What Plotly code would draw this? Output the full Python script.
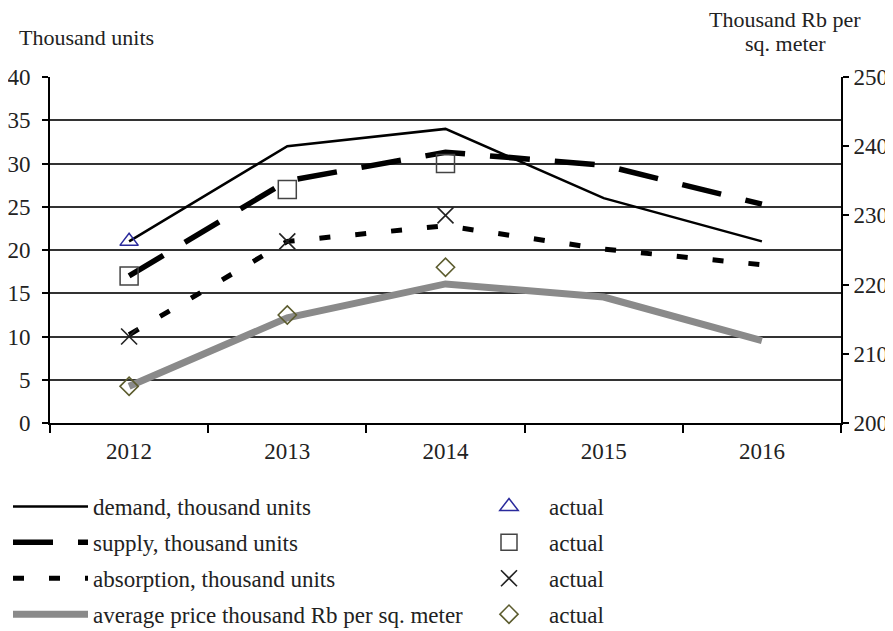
import plotly.graph_objects as go

years = ["2012", "2013", "2014", "2015", "2016"]
demand = [21, 32, 34, 26, 21]
supply = [17, 28, 31.3, 29.8, 25.3]
absorption = [10.2, 21, 22.8, 20.1, 18.3]
price = [205.3, 215.2, 220.1, 218.2, 211.9]

actual_years_demand = ["2012"]
demand_actual = [21]
actual_years = ["2012", "2013", "2014"]
supply_actual = [17, 27, 30]
absorption_actual = [10, 21, 24]
price_actual = [205.3, 215.6, 222.5]

FONT = "Liberation Serif, Times New Roman, serif"
fig = go.Figure()

fig.add_trace(go.Scatter(x=years, y=demand, mode="lines", name="demand, thousand units",
                         line=dict(color="black", width=2.5), legend="legend", legendgroup="a"))
fig.add_trace(go.Scatter(x=years, y=supply, mode="lines", name="supply, thousand units",
                         line=dict(color="black", width=5.5, dash="40px,25px"), legend="legend", legendgroup="b"))
fig.add_trace(go.Scatter(x=years, y=absorption, mode="lines", name="absorption, thousand units",
                         line=dict(color="black", width=5, dash="11px,25px"), legend="legend", legendgroup="c"))
fig.add_trace(go.Scatter(x=years, y=price, mode="lines", name="average price thousand Rb per sq. meter",
                         line=dict(color="#8a8a8a", width=7), yaxis="y2", legend="legend", legendgroup="d"))

fig.add_trace(go.Scatter(x=actual_years_demand, y=demand_actual, mode="markers", name="actual",
                         marker=dict(symbol="triangle-up-open", size=16, color="#2a2a9c", line=dict(width=1.5)),
                         legend="legend2", legendgroup="e"))
fig.add_trace(go.Scatter(x=actual_years, y=supply_actual, mode="markers", name="actual",
                         marker=dict(symbol="square-open", size=18, color="#444444", line=dict(width=1.5)),
                         legend="legend2", legendgroup="f"))
fig.add_trace(go.Scatter(x=actual_years, y=absorption_actual, mode="markers", name="actual",
                         marker=dict(symbol="x-thin-open", size=16, color="#222222", line=dict(width=1.6)),
                         legend="legend2", legendgroup="g"))
fig.add_trace(go.Scatter(x=actual_years, y=price_actual, mode="markers", name="actual",
                         marker=dict(symbol="diamond-open", size=14, color="#5c5c2e", line=dict(width=1.6)),
                         yaxis="y2", legend="legend2", legendgroup="h"))

# page body has an 8px margin, so the figure is laid out 8px up/left of page coordinates
L, R, T, B = 42, 60, 69, 216
W, H = 893, 631
pw = W - L - R
ph = H - T - B


def px_x(x):
    return (x - L) / pw


def px_y(y):
    return (H - B - y) / ph


fig.update_layout(
    width=W, height=H,
    margin=dict(l=L, r=R, t=T, b=B, autoexpand=False),
    paper_bgcolor="white", plot_bgcolor="white",
    font=dict(family=FONT, size=23, color="#222222"),
    showlegend=True,
    xaxis=dict(type="category", tickson="boundaries", ticks="outside", ticklen=8, tickcolor="black",
               tickwidth=1.5, showline=True, linecolor="black", linewidth=2, showgrid=False,
               range=[-0.5, 4.5], ticklabelstandoff=6, tickangle=0, automargin=False,
               tickfont=dict(family=FONT, size=23)),
    yaxis=dict(range=[0, 40], dtick=5, ticks="outside", ticklen=6, tickcolor="black", tickwidth=1.5,
               showline=True, linecolor="black", linewidth=2, showgrid=True, gridcolor="#333333",
               gridwidth=1.5, zeroline=False, ticklabelstandoff=7, automargin=False,
               tickfont=dict(family=FONT, size=23)),
    yaxis2=dict(range=[200, 250], dtick=10, overlaying="y", side="right", ticks="outside", ticklen=6,
                tickcolor="black", tickwidth=1.5, showline=True, linecolor="black", linewidth=2,
                showgrid=False, zeroline=False, ticklabelstandoff=0, automargin=False,
                tickfont=dict(family=FONT, size=23)),
    legend=dict(xref="container", yref="container", x=0.0, y=(H - 477) / H, xanchor="left", yanchor="top",
                orientation="v", itemwidth=75, tracegroupgap=3, font=dict(size=23, family=FONT),
                bgcolor="rgba(0,0,0,0)", itemclick=False),
    legend2=dict(xref="container", yref="container", x=461 / W, y=(H - 477) / H, xanchor="left", yanchor="top",
                 orientation="v", itemwidth=70, tracegroupgap=3, font=dict(size=23, family=FONT),
                 bgcolor="rgba(0,0,0,0)"),
    annotations=[
        dict(text="Thousand units", xref="paper", yref="paper", x=px_x(9), y=px_y(29),
             xanchor="left", yanchor="middle", showarrow=False, font=dict(size=22, family=FONT)),
        dict(text="Thousand Rb per", xref="paper", yref="paper", x=px_x(777), y=px_y(12),
             xanchor="center", yanchor="middle", showarrow=False, font=dict(size=22, family=FONT)),
        dict(text="sq. meter", xref="paper", yref="paper", x=px_x(777), y=px_y(35),
             xanchor="center", yanchor="middle", showarrow=False, font=dict(size=22, family=FONT)),
    ],
)

fig.write_html("out.html")
